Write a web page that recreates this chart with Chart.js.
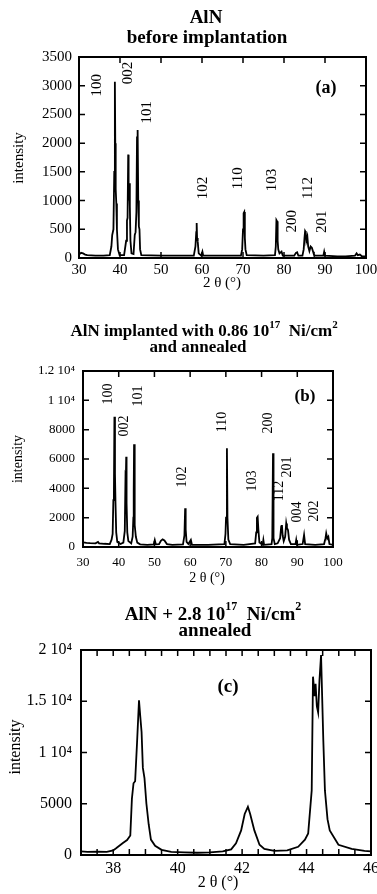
<!DOCTYPE html>
<html>
<head>
<meta charset="UTF-8">
<title>AlN XRD patterns</title>
<script src="https://cdn.jsdelivr.net/npm/chart.js@4.4.1/dist/chart.umd.min.js"></script>
<style>
  body { margin: 0; background: #fff; }
  .panel { position: absolute; left: 0; width: 377px; }
</style>
</head>
<body>
<div class="panel" style="top:0;height:295px"><canvas id="chartA"></canvas></div>
<div class="panel" style="top:300px;height:295px"><canvas id="chartB"></canvas></div>
<div class="panel" style="top:595px;height:299px"><canvas id="chartC"></canvas></div>
<script>
// (a) AlN before implantation
const aTheta = [30.0, 30.5, 31.0, 31.5, 32.0, 34.0, 36.0, 37.5, 37.9, 38.1, 38.4, 38.6, 38.75, 38.85, 38.95, 39.1, 39.25, 39.5, 39.9,
  41.0, 41.5, 41.7, 41.85, 42.0, 42.1, 42.25, 42.4, 42.55, 42.8, 43.3, 43.6, 43.8, 44.0, 44.15, 44.3, 44.45, 44.6, 44.75, 44.9, 45.2,
  50.0, 55.0, 58.0, 58.4, 58.6, 58.7, 58.8, 58.95, 59.2, 59.8, 60.1, 60.3, 65.0, 69.5, 69.8, 70.0, 70.15, 70.3, 70.45, 70.6, 70.9,
  75.0, 77.8, 78.0, 78.15, 78.3, 78.45, 78.6, 78.9, 79.4, 79.7, 82.5, 82.9, 83.2, 83.5, 84.5, 84.8, 85.0, 85.15, 85.3, 85.45, 85.7,
  85.9, 86.2, 86.5, 86.8, 87.1, 87.3, 87.6, 89.6, 89.8, 90.0, 93.0, 95.0, 97.3, 97.7, 98.0, 98.5, 99.0, 100.0];
const aCounts = [60, 90, 80, 60, 50, 40, 40, 50, 200, 400, 500, 1500, 3070, 2000, 1200, 950, 500, 150, 50,
  50, 300, 650, 700, 1800, 1000, 1300, 900, 300, 80, 70, 400, 450, 800, 2100, 2230, 1000, 550, 500, 150, 50,
  40, 40, 40, 200, 450, 610, 350, 290, 80, 40, 110, 40, 40, 40, 150, 500, 780, 800, 350, 150, 50,
  40, 50, 200, 660, 640, 300, 150, 80, 110, 40, 40, 90, 100, 40, 40, 150, 350, 470, 450, 300, 370,
  200, 120, 200, 180, 110, 60, 40, 40, 110, 40, 30, 30, 40, 80, 50, 60, 30, 30];
const aHkl = ['100', '002', '101', '102', '110', '103', '200', '112', '201'];
const aHklTheta = [34.4, 42.0, 46.6, 60.2, 68.8, 77.1, 82.0, 85.9, 89.3];
const aHklCounts = [3010, 3220, 2540, 1220, 1390, 1360, 640, 1220, 630];
const aYTicks = [0, 500, 1000, 1500, 2000, 2500, 3000, 3500];
const aYLabels = ['0', '500', '1000', '1500', '2000', '2500', '3000', '3500'];

// (b) implanted with 0.86e17 Ni/cm2 and annealed
const bTheta = [30.0, 31.0, 32.0, 33.5, 34.2, 34.5, 36.0, 37.5, 38.0, 38.3, 38.5, 38.65, 38.8, 38.95, 39.1, 39.3, 39.6, 40.5,
  41.3, 41.7, 41.9, 42.0, 42.1, 42.2, 42.4, 42.7, 43.5, 43.9, 44.1, 44.2, 44.3, 44.4, 44.55, 44.8, 45.2, 46.0, 48.0, 49.8,
  50.1, 50.4, 51.3, 51.8, 52.3, 52.8, 53.5, 55.0, 58.0, 58.4, 58.6, 58.75, 59.0, 59.5, 60.2, 60.5, 65.0, 69.6, 69.9, 70.05,
  70.3, 70.45, 70.7, 71.2, 75.0, 78.2, 78.5, 78.7, 78.9, 79.1, 79.4, 80.3, 80.5, 80.7, 82.8, 83.0, 83.2, 83.35, 83.7, 84.5,
  85.2, 85.5, 85.7, 85.9, 86.2, 86.6, 86.9, 87.1, 87.4, 87.7, 88.2, 89.5, 89.7, 89.9, 91.5, 91.9, 92.2, 95.0, 97.5, 97.9,
  98.1, 98.4, 98.7, 99.0, 100.0];
const bCounts = [320, 280, 260, 250, 350, 250, 220, 200, 500, 900, 3200, 3500, 8880, 5000, 3000, 1000, 350, 200,
  300, 1100, 4800, 4700, 6150, 3000, 1000, 400, 250, 700, 2000, 3800, 7000, 4000, 1500, 700, 300, 180, 150, 180,
  480, 180, 200, 420, 520, 450, 200, 150, 180, 800, 2640, 1200, 350, 200, 480, 150, 150, 200, 900, 2000,
  6730, 2000, 500, 200, 150, 250, 1000, 2000, 2070, 1200, 300, 150, 480, 150, 200, 600, 6390, 600, 200, 250,
  600, 1400, 1500, 800, 400, 700, 1610, 1300, 1160, 500, 200, 200, 480, 150, 200, 820, 200, 150, 200, 600,
  930, 580, 700, 200, 150];
const bHkl = ['100', '002', '101', '102', '110', '103', '200', '112', '201', '004', '202'];
const bHklTheta = [37.0, 41.5, 45.4, 57.7, 68.9, 77.3, 81.8, 85.1, 87.1, 90.1, 94.9];
const bHklCounts = [10430, 8250, 10290, 4770, 8520, 4500, 8450, 3820, 5450, 2390, 2450];
const bYTicks = [0, 2000, 4000, 6000, 8000, 10000, 12000];
const bYLabels = ['0', '2000', '4000', '6000', '8000', '1 10⁴', '1.2 10⁴'];

// (c) AlN + 2.8e17 Ni/cm2 annealed
const cTheta = [37.0, 37.2, 37.5, 37.8, 38.0, 38.1, 38.3, 38.43, 38.53, 38.58, 38.63, 38.68, 38.74, 38.8, 38.84, 38.88, 38.92,
  38.97, 39.03, 39.1, 39.17, 39.3, 39.5, 39.8, 40.2, 40.6, 41.0, 41.4, 41.66, 41.81, 41.97, 42.08, 42.18, 42.25, 42.38,
  42.54, 42.69, 43.0, 43.4, 43.74, 43.95, 44.05, 44.16, 44.2, 44.25, 44.28, 44.32, 44.36, 44.4, 44.45, 44.52, 44.57,
  44.65, 44.72, 44.99, 45.4, 45.8, 46.0];
const cCounts = [350, 300, 320, 300, 450, 680, 1170, 1460, 1900, 5500, 7000, 7200, 11000, 15100, 13500, 12000, 8500,
  7500, 5000, 3000, 1500, 900, 500, 300, 250, 220, 250, 350, 550, 1150, 2400, 4000, 4700, 4000, 2400,
  1000, 600, 400, 450, 800, 1500, 2100, 6300, 17400, 15500, 16700, 14500, 13900, 17000, 19500, 11200, 6300,
  3500, 2400, 1000, 600, 400, 350];
const cYTicks = [0, 5000, 10000, 15000, 20000];
const cYLabels = ['0', '5000', '1 10⁴', '1.5 10⁴', '2 10⁴'];
const cXLabelled = [38, 40, 42, 44, 46];

const SERIF = '"Liberation Serif", "Times New Roman", serif';

// text with superscript pieces, centred on cx
function drawRich(ctx, parts, cx, cy, size, weight) {
  let total = 0;
  parts.forEach(p => {
    ctx.font = `${weight} ${p.sup ? Math.round(size * 0.62) : size}px ${SERIF}`;
    p.w = ctx.measureText(p.t).width;
    total += p.w;
  });
  let x = cx - total / 2;
  ctx.textAlign = 'left';
  ctx.textBaseline = 'middle';
  parts.forEach(p => {
    ctx.font = `${weight} ${p.sup ? Math.round(size * 0.62) : size}px ${SERIF}`;
    ctx.fillText(p.t, x, p.sup ? cy - size * 0.4 : cy);
    x += p.w;
  });
}

const framePlugin = {
  id: 'frame',
  afterDraw(chart, args, o) {
    const ctx = chart.ctx;
    const a = chart.chartArea;
    const xs = chart.scales.x, ys = chart.scales.y;
    ctx.save();
    ctx.strokeStyle = '#000';
    ctx.fillStyle = '#000';
    ctx.lineWidth = 2;
    ctx.strokeRect(a.left, a.top, a.right - a.left, a.bottom - a.top);
    ctx.lineWidth = 1.5;
    ctx.beginPath();
    xs.ticks.forEach(t => {
      const px = xs.getPixelForValue(t.value);
      ctx.moveTo(px, a.bottom); ctx.lineTo(px, a.bottom - o.tick);
      ctx.moveTo(px, a.top); ctx.lineTo(px, a.top + o.tick);
    });
    ys.ticks.forEach(t => {
      const py = ys.getPixelForValue(t.value);
      ctx.moveTo(a.left, py); ctx.lineTo(a.left + o.tick, py);
      ctx.moveTo(a.right, py); ctx.lineTo(a.right - o.tick, py);
    });
    ctx.stroke();

    // titles
    o.titles.forEach(line => drawRich(ctx, line.parts, line.x, line.y, line.size, 'bold'));
    drawRich(ctx, [{ t: o.tag }], o.tagX, o.tagY, o.tagSize, 'bold');

    // axis titles
    drawRich(ctx, [{ t: '2 θ (°)' }], o.xTitleX, o.xTitleY, o.axisSize, 'normal');
    ctx.save();
    ctx.translate(o.yTitleX, o.yTitleY);
    ctx.rotate(-Math.PI / 2);
    drawRich(ctx, [{ t: 'intensity' }], 0, 0, o.axisSize, 'normal');
    ctx.restore();

    // peak indices, written upwards
    ctx.font = `${o.hklSize}px ${SERIF}`;
    ctx.textAlign = 'center';
    ctx.textBaseline = 'middle';
    (o.hkl || []).forEach((h, i) => {
      ctx.save();
      ctx.translate(xs.getPixelForValue(o.hklTheta[i]), ys.getPixelForValue(o.hklCounts[i]));
      ctx.rotate(-Math.PI / 2);
      ctx.fillText(h, 0, 0);
      ctx.restore();
    });
    ctx.restore();
  }
};

function makePanel(id, theta, counts, p) {
  const points = theta.map((t, i) => ({ x: t, y: counts[i] }));
  return new Chart(document.getElementById(id), {
    type: 'line',
    data: {
      datasets: [{
        data: points,
        borderColor: '#000',
        borderWidth: 1.8,
        pointRadius: 0,
        tension: 0,
        fill: false
      }]
    },
    options: {
      responsive: true,
      maintainAspectRatio: false,
      animation: false,
      events: [],
      layout: { padding: { top: p.top, right: p.right, left: 0, bottom: 0 } },
      plugins: {
        legend: { display: false },
        tooltip: { enabled: false },
        frame: p.frame
      },
      scales: {
        x: {
          type: 'linear',
          min: p.xMin, max: p.xMax,
          grid: { display: false, drawTicks: false },
          border: { display: false },
          afterBuildTicks: s => { s.ticks = p.xTicks.map(v => ({ value: v })); },
          ticks: {
            autoSkip: false, maxRotation: 0, padding: p.xPad, color: '#000',
            font: { family: SERIF, size: p.tickSize },
            callback: p.xLabel
          },
          afterFit: s => {
            s.height = p.xHeight;
            s.paddingLeft = 0; s.paddingRight = 0;
          }
        },
        y: {
          min: p.yMin, max: p.yMax,
          grid: { display: false, drawTicks: false },
          border: { display: false },
          afterBuildTicks: s => { s.ticks = p.yTicks.map(v => ({ value: v })); },
          ticks: {
            autoSkip: false, padding: p.yPad, color: '#000',
            font: { family: SERIF, size: p.tickSize },
            callback: (v) => p.yLabels[p.yTicks.indexOf(v)]
          },
          afterFit: s => {
            s.width = p.yWidth;
            s.paddingTop = 0; s.paddingBottom = 0;
          }
        }
      }
    },
    plugins: [framePlugin]
  });
}

const aXTicks = [30, 40, 50, 60, 70, 80, 90, 100];
makePanel('chartA', aTheta, aCounts, {
  top: 57, right: 11, xHeight: 37, yWidth: 79,
  xMin: 30, xMax: 100, yMin: 0, yMax: 3500,
  xTicks: aXTicks, xLabel: v => String(v), yTicks: aYTicks, yLabels: aYLabels,
  xPad: 3, yPad: 7, tickSize: 15,
  frame: {
    tick: 6,
    titles: [
      { parts: [{ t: 'AlN' }], x: 206, y: 18, size: 19 },
      { parts: [{ t: 'before implantation' }], x: 207, y: 38, size: 19 }
    ],
    tag: '(a)', tagX: 326, tagY: 88, tagSize: 18,
    xTitleX: 222, xTitleY: 283, yTitleX: 19, yTitleY: 158, axisSize: 15,
    hkl: aHkl, hklTheta: aHklTheta, hklCounts: aHklCounts, hklSize: 15
  }
});

const bXTicks = [30, 40, 50, 60, 70, 80, 90, 100];
makePanel('chartB', bTheta, bCounts, {
  top: 71, right: 44, xHeight: 48, yWidth: 83,
  xMin: 30, xMax: 100, yMin: 0, yMax: 12000,
  xTicks: bXTicks, xLabel: v => String(v), yTicks: bYTicks, yLabels: bYLabels,
  xPad: 8, yPad: 8, tickSize: 13,
  frame: {
    tick: 6,
    titles: [
      { parts: [{ t: 'AlN implanted with 0.86 10' }, { t: '17', sup: true }, { t: '  Ni/cm' }, { t: '2', sup: true }], x: 204, y: 32, size: 17 },
      { parts: [{ t: 'and annealed' }], x: 198, y: 48, size: 17 }
    ],
    tag: '(b)', tagX: 305, tagY: 97, tagSize: 17,
    xTitleX: 207, xTitleY: 278, yTitleX: 18, yTitleY: 159, axisSize: 14,
    hkl: bHkl, hklTheta: bHklTheta, hklCounts: bHklCounts, hklSize: 14
  }
});

const cXTicks = [37, 37.5, 38, 38.5, 39, 39.5, 40, 40.5, 41, 41.5, 42, 42.5, 43, 43.5, 44, 44.5, 45, 45.5, 46];
makePanel('chartC', cTheta, cCounts, {
  top: 55, right: 6, xHeight: 39, yWidth: 81,
  xMin: 37, xMax: 46, yMin: 0, yMax: 20000,
  xTicks: cXTicks, xLabel: v => (cXLabelled.includes(v) ? String(v) : ''), yTicks: cYTicks, yLabels: cYLabels,
  xPad: 4, yPad: 9, tickSize: 16,
  frame: {
    tick: 6,
    titles: [
      { parts: [{ t: 'AlN + 2.8 10' }, { t: '17', sup: true }, { t: '  Ni/cm' }, { t: '2', sup: true }], x: 213, y: 20, size: 19 },
      { parts: [{ t: 'annealed' }], x: 215, y: 36, size: 19 }
    ],
    tag: '(c)', tagX: 228, tagY: 92, tagSize: 19,
    xTitleX: 218, xTitleY: 288, yTitleX: 16, yTitleY: 152, axisSize: 16
  }
});
</script>
</body>
</html>
